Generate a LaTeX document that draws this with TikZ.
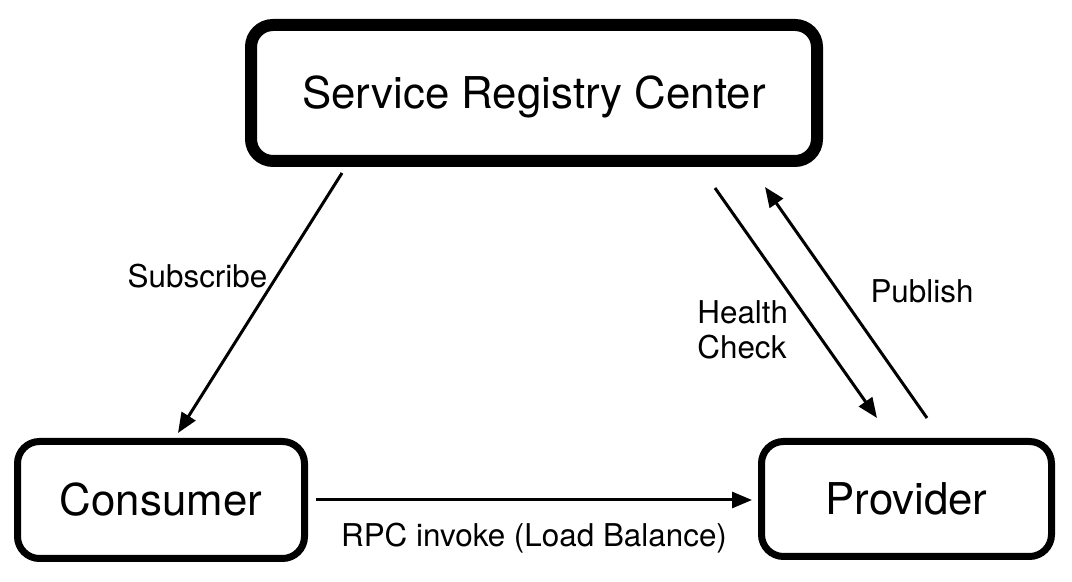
\documentclass[tikz,border=0pt]{standalone}
\usepackage{fontspec}
\setmainfont{TeX Gyre Heros}
\usetikzlibrary{arrows.meta,positioning}
\tikzset{
    box/.style = {
        draw,
        rounded corners=11pt,
        line width=3.5pt,
        text height=15.8pt,
        text depth=0pt,
        font=\fontsize{21.9}{26}\selectfont,
        },
    big box/.style = {
        line width=6pt,
        },
    link/.style = {
        line width=1.5pt,
        -{Triangle[length=10pt,width=8pt]},
        },
    lbl/.style = {
        inner sep=0pt,
        font=\fontsize{15.7}{17.5}\selectfont,
        },
    one line/.style = {
        text height=11.3pt,
        text depth=0pt,
        },
}

\begin{document}
\begin{tikzpicture}[x=0.5pt, y=-0.5pt]
    \useasboundingbox (0,0) rectangle (1072,582);

    % Boxes
    \node [box, big box, minimum width=283pt, minimum height=68pt] (registry) at (534,93) {Service Registry Center};
    \node [box, minimum width=143.5pt, minimum height=58.5pt] (consumer) at (161,500) {Consumer};
    \node [box, minimum width=145pt, minimum height=57.5pt] (provider) at (906.5,499) {Provider};

    % Arrow ends
    \coordinate (sub start) at (342,173);
    \coordinate (sub end) at (178,433);
    \coordinate (health start) at (715,188);
    \coordinate (health end) at (877,418);
    \coordinate (pub start) at (927,418);
    \coordinate (pub end) at (765,187);
    \coordinate (rpc start) at (316,500);
    \coordinate (rpc end) at (752,500);

    \draw [link] (sub start) -- (sub end);
    \draw [link] (health start) -- (health end);
    \draw [link] (pub start) -- (pub end);
    \draw [link] (rpc start) -- (rpc end);

    % Labels
    \node [lbl, one line] (subscribe) at (197.5,276.5) {Subscribe};
    \node [lbl, align=left, anchor=west] (health) at (697,330) {Health\\Check};
    \node [lbl, one line] (publish) at (922,291.5) {Publish};
    \node [lbl, one line] (rpc) at (534,535) {RPC invoke (Load Balance)};
\end{tikzpicture}
\end{document}
